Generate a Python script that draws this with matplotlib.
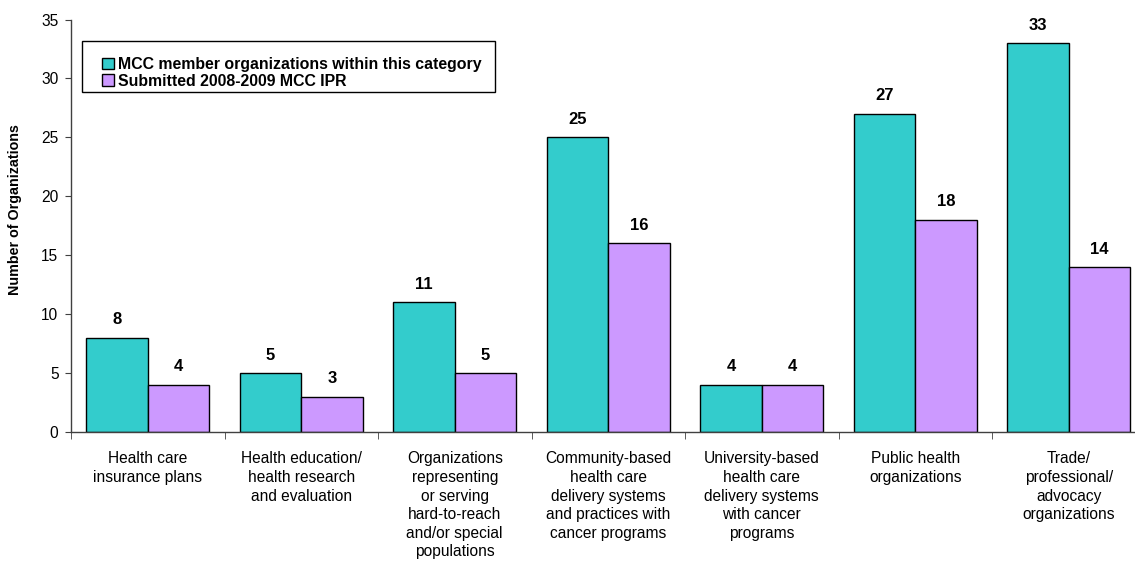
import matplotlib
matplotlib.use("Agg")
import matplotlib.pyplot as plt
from matplotlib.patches import Rectangle
import numpy as np

categories = [
    "Health care\ninsurance plans",
    "Health education/\nhealth research\nand evaluation",
    "Organizations\nrepresenting\nor serving\nhard-to-reach\nand/or special\npopulations",
    "Community-based\nhealth care\ndelivery systems\nand practices with\ncancer programs",
    "University-based\nhealth care\ndelivery systems\nwith cancer\nprograms",
    "Public health\norganizations",
    "Trade/\nprofessional/\nadvocacy\norganizations",
]
members = [8, 5, 11, 25, 4, 27, 33]
submitted = [4, 3, 5, 16, 4, 18, 14]
series_names = ["MCC member organizations within this category",
                "Submitted 2008-2009 MCC IPR"]
yticks = [0, 5, 10, 15, 20, 25, 30, 35]

plt.rcParams['font.family'] = ['Liberation Sans', 'DejaVu Sans']

W, H = 1135, 565
fig = plt.figure(figsize=(W/100, H/100), dpi=100)
ax = fig.add_axes([71/W, 133/H, 1074.5/W, 412.5/H])

x = np.arange(len(categories))
w = 0.4
teal = "#33CCCC"
purple = "#CC99FF"
b1 = ax.bar(x - w/2, members, w, color=teal, edgecolor="black", linewidth=1, label=series_names[0])
b2 = ax.bar(x + w/2, submitted, w, color=purple, edgecolor="black", linewidth=1, label=series_names[1])

for bars, vals in ((b1, members), (b2, submitted)):
    for r, v in zip(bars, vals):
        ax.annotate(str(v), (r.get_x() + r.get_width()/2, v), xytext=(0, 7.5),
                    textcoords="offset points", ha="center", va="bottom",
                    fontsize=12, fontweight="bold")

ax.set_xlim(-0.5, len(categories) - 0.5)
ax.set_ylim(0, 35)
ax.set_yticks(yticks)
ax.tick_params(axis="y", labelsize=11.2, length=4, direction="out", color="#404040", pad=5)
ax.set_xticks(x)
ax.set_xticklabels(categories, fontsize=11.2, linespacing=1.3)
ax.tick_params(axis="x", which="major", length=0, pad=14)
ax.set_xticks(np.arange(-0.5, len(categories), 1.0), minor=True)
ax.tick_params(axis="x", which="minor", length=5, direction="out", color="#404040")

for s in ("top", "right"):
    ax.spines[s].set_visible(False)
for s in ("left", "bottom"):
    ax.spines[s].set_color("#404040")
    ax.spines[s].set_linewidth(1)

ax.set_ylabel("Number of Organizations", fontsize=10.3, fontweight="bold")
ax.yaxis.set_label_coords(-49/1074.5, (432 - 210) / 412.5)

# legend frame (drawn separately to match padding)
fig.patches.append(Rectangle((82/W, (H - 92)/H), (495 - 82)/W, (92 - 41)/H,
                             transform=fig.transFigure, facecolor="white",
                             edgecolor="black", linewidth=1, zorder=5))

leg = fig.legend(handles=[b1, b2], labels=series_names, loc="center left",
                 bbox_to_anchor=(102/W, (H - 73)/H),
                 frameon=False,
                 prop={"weight": "bold", "size": 11.4},
                 handlelength=0.75, handleheight=0.75, handletextpad=0.25,
                 borderpad=0, labelspacing=0.1, borderaxespad=0)
leg.set_zorder(6)

fig.savefig("out.png", dpi=100)
